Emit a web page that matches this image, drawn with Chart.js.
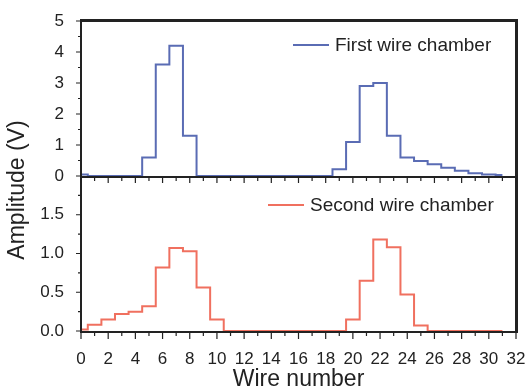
<!DOCTYPE html>
<html>
<head>
<meta charset="utf-8">
<script src="https://cdn.jsdelivr.net/npm/chart.js@4.4.1/dist/chart.umd.min.js"></script>
<style>
  html, body { margin: 0; padding: 0; background: #fff; }
  #wrap { width: 527px; height: 391px; }
</style>
</head>
<body>
<div id="wrap"><canvas id="chart" width="527" height="391"></canvas></div>
<script>
// Wire number 0..31, one amplitude reading per wire
const wires = [0, 1, 2, 3, 4, 5, 6, 7, 8, 9, 10, 11, 12, 13, 14, 15,
               16, 17, 18, 19, 20, 21, 22, 23, 24, 25, 26, 27, 28, 29, 30, 31];
const firstChamber = [0.05, 0, 0, 0, 0, 0.6, 3.6, 4.2, 1.3, 0, 0, 0, 0, 0, 0, 0,
                      0, 0, 0, 0.22, 1.1, 2.9, 3.0, 1.3, 0.6, 0.48, 0.38, 0.27, 0.17, 0.09, 0.05, 0.03];
const secondChamber = [0.02, 0.08, 0.15, 0.22, 0.25, 0.32, 0.82, 1.07, 1.03, 0.56, 0.15, 0, 0, 0, 0, 0,
                       0, 0, 0, 0, 0.15, 0.65, 1.18, 1.08, 0.47, 0.07, 0, 0, 0, 0, 0, 0];

// tick labels
const xTickValues = [0, 2, 4, 6, 8, 10, 12, 14, 16, 18, 20, 22, 24, 26, 28, 30, 32];
const topTickValues = [0, 1, 2, 3, 4, 5];
const bottomTickValues = [0, 0.5, 1.0, 1.5];

const axisColor = '#222';
const tickFont = { family: 'Liberation Sans, Arial, sans-serif', size: 17 };

// frame, minor ticks, in-panel legends and axis titles
const panelDecor = {
    id: 'panelDecor',
    afterDraw(chart) {
        const { ctx, chartArea, scales } = chart;
        const xs = scales.x, yt = scales.yTop, yb = scales.yBot;
        const l = Math.round(chartArea.left), r = Math.round(chartArea.right);
        const t = Math.round(yt.top), m = Math.round(yt.bottom), b = Math.round(yb.bottom);
        ctx.save();

        // panel frames as filled bars
        ctx.fillStyle = axisColor;
        ctx.fillRect(l - 1, t - 2, r - l + 3, 3);   // top
        ctx.fillRect(r - 1, t - 2, 3, b - t + 4);   // right
        ctx.fillRect(l - 1, m, r - l + 2, 2);       // divider
        ctx.fillRect(l - 1, b, r - l + 2, 2);       // bottom
        ctx.fillRect(l - 1, t - 2, 2, b - t + 4);   // left

        ctx.strokeStyle = axisColor;
        ctx.lineWidth = 1.2;
        ctx.beginPath();
        // x ticks on the divider and on the bottom axis, each wire
        for (let v = xs.min; v <= xs.max; v++) {
            const px = xs.getPixelForValue(v);
            const major = v % 2 === 0;
            ctx.moveTo(px, m);
            ctx.lineTo(px, m + (major ? 7 : 5));
            ctx.moveTo(px, b);
            ctx.lineTo(px, b + (major ? 8 : 5));
        }
        // y ticks, outward on the left
        for (let v = 0; v <= yt.max; v += 0.5) {
            const py = yt.getPixelForValue(v);
            ctx.moveTo(l, py);
            ctx.lineTo(l - (v % 1 === 0 ? 5 : 3), py);
        }
        for (let v = 0; v <= yb.max; v += 0.25) {
            const py = yb.getPixelForValue(v);
            ctx.moveTo(l, py);
            ctx.lineTo(l - (v % 0.5 === 0 ? 5 : 3), py);
        }
        ctx.stroke();

        ctx.font = '19px "Liberation Sans", Arial, sans-serif';
        ctx.textBaseline = 'middle';
        ctx.fillStyle = axisColor;

        // legends, one per panel
        const legends = [
            { ds: chart.data.datasets[0], x: r - 223, y: t + 24 },
            { ds: chart.data.datasets[1], x: r - 248, y: m + 29 }
        ];
        legends.forEach(lg => {
            ctx.strokeStyle = lg.ds.borderColor;
            ctx.lineWidth = 2;
            ctx.beginPath();
            ctx.moveTo(lg.x, lg.y);
            ctx.lineTo(lg.x + 36, lg.y);
            ctx.stroke();
            ctx.textAlign = 'left';
            ctx.fillText(lg.ds.label, lg.x + 42, lg.y + 1);
        });

        // axis titles
        ctx.font = '23px "Liberation Sans", Arial, sans-serif';
        ctx.textAlign = 'center';
        ctx.fillText('Wire number', (l + r) / 2, 380);
        ctx.translate(18, 190);
        ctx.rotate(-Math.PI / 2);
        ctx.fillText('Amplitude (V)', 0, 0);
        ctx.restore();
    }
};

const ctx = document.getElementById('chart');
new Chart(ctx, {
    type: 'line',
    data: {
        datasets: [
            {
                label: 'First wire chamber',
                data: wires.map((w, i) => ({ x: w, y: firstChamber[i] })),
                borderColor: '#5a6cb4',
                borderWidth: 2,
                stepped: 'middle',
                pointRadius: 0,
                yAxisID: 'yTop'
            },
            {
                label: 'Second wire chamber',
                data: wires.map((w, i) => ({ x: w, y: secondChamber[i] })),
                borderColor: '#f0705f',
                borderWidth: 2,
                stepped: 'middle',
                pointRadius: 0,
                yAxisID: 'yBot'
            }
        ]
    },
    options: {
        responsive: false,
        animation: false,
        layout: { padding: { top: 21, right: 11, left: 0, bottom: 0 } },
        plugins: {
            legend: { display: false },
            tooltip: { enabled: false }
        },
        scales: {
            x: {
                type: 'linear',
                min: 0,
                max: 32,
                afterBuildTicks: s => { s.ticks = xTickValues.map(v => ({ value: v })); },
                afterFit: s => { s.height = 60; s.paddingLeft = 0; s.paddingRight = 0; },
                grid: { display: false },
                border: { display: false },
                ticks: { autoSkip: false, maxRotation: 0, padding: 10, color: axisColor, font: tickFont }
            },
            yBot: {
                type: 'linear',
                position: 'left',
                stack: 'amp',
                stackWeight: 1,
                min: 0,
                max: 2,
                afterBuildTicks: s => { s.ticks = bottomTickValues.map(v => ({ value: v })); },
                afterFit: s => { s.width = 81; s.paddingTop = 0; s.paddingBottom = 0; },
                grid: { display: false },
                border: { display: false },
                ticks: { autoSkip: false, padding: 9, color: axisColor, font: tickFont, callback: v => Number(v).toFixed(1) }
            },
            yTop: {
                type: 'linear',
                position: 'left',
                stack: 'amp',
                stackWeight: 1,
                min: 0,
                max: 5,
                afterBuildTicks: s => { s.ticks = topTickValues.map(v => ({ value: v })); },
                afterFit: s => { s.width = 81; s.paddingTop = 0; s.paddingBottom = 0; },
                grid: { display: false },
                border: { display: false },
                ticks: { autoSkip: false, padding: 9, color: axisColor, font: tickFont, callback: v => String(v) }
            }
        }
    },
    plugins: [panelDecor]
});
</script>
</body>
</html>
